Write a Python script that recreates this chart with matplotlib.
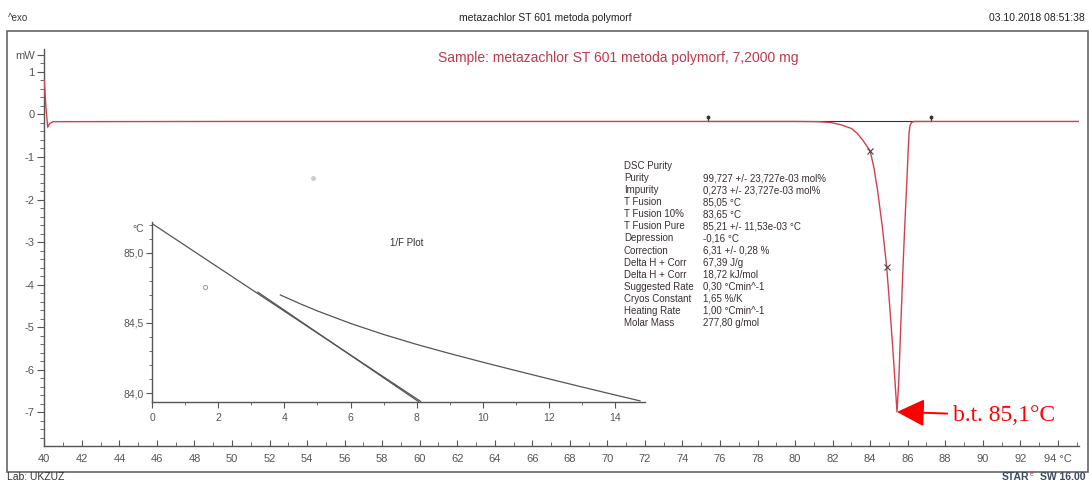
import matplotlib
matplotlib.use("Agg")
import matplotlib.pyplot as plt
from matplotlib.patches import Rectangle
from matplotlib.ticker import MultipleLocator, FixedLocator

plt.rcParams["font.family"] = ["Liberation Sans", "DejaVu Sans"]

# DSC heating run: temperature (°C) and heat flow (mW)
temp = [40.0, 40.08, 40.18, 40.3, 40.47, 50.0, 60.0, 70.0, 80.0, 81.2, 81.9,
        82.5, 83.0, 83.3, 83.6, 84.0, 84.2, 84.4, 84.65, 84.88, 85.05, 85.2,
        85.32, 85.43, 85.52, 85.62, 85.75, 85.85, 85.95, 86.02, 86.07, 86.12,
        86.2, 86.35, 90.0, 95.1]
heat_flow = [0.80, 0.20, -0.30, -0.21, -0.17, -0.165, -0.165, -0.165, -0.165,
             -0.17, -0.19, -0.25, -0.33, -0.44, -0.60, -0.86, -1.25, -1.80,
             -2.65, -3.58, -4.55, -5.45, -6.25, -6.99, -6.30, -5.10, -3.59,
             -2.55, -1.62, -0.90, -0.45, -0.27, -0.19, -0.165, -0.165, -0.165]

# integration baseline limits and the two partial-area markers
limits = [75.35, 87.24]
baseline_level = -0.15
partial_t = [84.0, 84.88]
partial_hf = [-0.86, -3.58]

melting_point = 85.1
peak_t = 85.43
peak_hf = -6.99

# 1/F plot: fusion temperature against reciprocal melted fraction
inv_f = [3.88, 4.5, 5.0, 6.0, 7.0, 8.0, 9.0, 10.0, 11.0, 12.0, 13.0, 14.0, 14.75]
t_sample = [84.700, 84.635, 84.586, 84.497, 84.418, 84.347, 84.282, 84.220,
            84.160, 84.101, 84.043, 83.986, 83.944]
fit_x = [0.0, 8.12]
fit_t = [85.21, 83.94]
data_x = [3.2, 8.05]
data_t = [84.72, 83.94]

table_labels = ["DSC Purity", "Purity", "Impurity", "T Fusion", "T Fusion 10%",
                "T Fusion Pure", "Depression", "Correction", "Delta H + Corr",
                "Delta H + Corr", "Suggested Rate", "Cryos Constant",
                "Heating Rate", "Molar Mass"]
table_values = ["", "99,727 +/- 23,727e-03 mol%", "0,273 +/- 23,727e-03 mol%",
                "85,05 °C", "83,65 °C", "85,21 +/- 11,53e-03 °C", "-0,16 °C",
                "6,31 +/- 0,28 %", "67,39 J/g", "18,72 kJ/mol",
                "0,30 °Cmin^-1", "1,65 %/K", "1,00 °Cmin^-1", "277,80 g/mol"]

red = "#d2404f"
grey = "#555555"

fig = plt.figure(figsize=(10.89, 4.82), dpi=100)
W, H = 1089, 482


def fx(px):
    return px / W


def fy(py):
    return 1 - py / H


# page frame
fig.patches.append(Rectangle((fx(7), fy(471.5)), fx(1087.5 - 7), (471.5 - 31) / H,
                             transform=fig.transFigure, fill=False,
                             edgecolor="#666666", lw=1.2))

fig.text(fx(8), fy(18), "^exo", fontsize=7, color="#333333", va="center")
fig.text(fx(545), fy(18), "metazachlor ST 601 metoda polymorf", fontsize=7.5,
         color="#222222", ha="center", va="center")
fig.text(fx(1085), fy(18), "03.10.2018 08:51:38", fontsize=7.5, color="#222222",
         ha="right", va="center")
fig.text(fx(7), fy(476.5), "Lab: UKZUZ", fontsize=7.5, color="#333333",
         va="center")
fig.text(fx(1085), fy(476.5), "SW 16.00", fontsize=7.5, color="#3b4a5c",
         ha="right", va="center", fontweight="bold")
fig.text(fx(1029), fy(476.5), "STAR", fontsize=7.5, color="#3b4a5c",
         ha="right", va="center", fontweight="bold")
fig.text(fx(1029.5), fy(474), "e", fontsize=5, color="#c0394b",
         ha="left", va="center")

# main DSC axes
ax = fig.add_axes([fx(44.3), fy(446), fx(1078.5 - 44.3), (446 - 49.3) / H])
ax.plot(temp, heat_flow, color=red, lw=1.0, zorder=3)
ax.plot(limits, [baseline_level, baseline_level], color="#333333", lw=0.8, zorder=2)
for t in limits:
    ax.plot([t, t], [baseline_level, baseline_level + 0.09], color="#333333", lw=0.9)
    ax.plot(t, baseline_level + 0.1, marker="o", ms=1.8, color="#333333")
ax.plot(partial_t, partial_hf, ls="none", marker="x", ms=4, mew=0.8,
        color="#444444", zorder=4)
ax.plot(54.3, -1.5, marker="o", ms=2.5, color="#cccccc")

ax.set_xlim(40, 95.1)
ax.set_ylim(-7.79, 1.53)
for s in ["top", "right"]:
    ax.spines[s].set_visible(False)
for s in ["left", "bottom"]:
    ax.spines[s].set_color(grey)
    ax.spines[s].set_linewidth(1.0)

xt = list(range(40, 95, 2))
ax.xaxis.set_major_locator(FixedLocator(xt))
ax.set_xticklabels([str(t) for t in xt[:-1]] + ["94 °C"])
ax.xaxis.set_minor_locator(MultipleLocator(1))
ax.tick_params(axis="x", which="both", direction="in", colors=grey,
               labelsize=8, pad=6)
ax.tick_params(axis="x", which="major", length=4)
ax.tick_params(axis="x", which="minor", length=3)

yt = [1.4, 1, 0, -1, -2, -3, -4, -5, -6, -7]
ax.yaxis.set_major_locator(FixedLocator(yt))
ax.set_yticklabels(["mW", "1", "0", "-1", "-2", "-3", "-4", "-5", "-6", "-7"])
ax.yaxis.set_minor_locator(MultipleLocator(0.2))
ax.tick_params(axis="y", which="both", direction="out", colors=grey,
               labelsize=8, pad=2)
ax.tick_params(axis="y", which="major", length=5)
ax.tick_params(axis="y", which="minor", length=3)

ax.text(70.6, 1.32, "Sample: metazachlor ST 601 metoda polymorf, 7,2000 mg",
        color="#c0394b", fontsize=10, ha="center", va="center")

# purity report
for i, (lab, val) in enumerate(zip(table_labels, table_values)):
    y = fy(166 + i * 12.08)
    fig.text(fx(624), y, lab, fontsize=7, color="#3a3030", va="center")
    fig.text(fx(703), y, val, fontsize=7, color="#3a3030", va="center")

ax.annotate("b.t. %s°C" % str(melting_point).replace(".", ","),
            xy=(peak_t, peak_hf), xytext=(88.4, peak_hf - 0.08),
            fontsize=17, color="red", family=["Liberation Serif", "DejaVu Serif"],
            va="center",
            arrowprops=dict(arrowstyle="-|>,head_length=1.0,head_width=0.5",
                            color="red", lw=1.4, shrinkA=2, shrinkB=0))

# 1/F inset
ins = fig.add_axes([fx(152), fy(402), fx(645 - 152), (402 - 222) / H])
ins.patch.set_alpha(0)
ins.plot(fit_x, fit_t, color=grey, lw=0.9)
ins.plot(data_x, data_t, color=grey, lw=0.9)
ins.plot(inv_f, t_sample, color=grey, lw=0.9)
ins.plot(1.6, 84.76, marker="o", ms=3, mfc="none", mec="#999999", mew=0.7)
ins.set_xlim(0, 14.9)
ins.set_ylim(83.936, 85.221)
for s in ["top", "right"]:
    ins.spines[s].set_visible(False)
for s in ["left", "bottom"]:
    ins.spines[s].set_color(grey)
    ins.spines[s].set_linewidth(1.0)
ins.xaxis.set_major_locator(MultipleLocator(2))
ins.xaxis.set_minor_locator(MultipleLocator(1))
ins.yaxis.set_major_locator(FixedLocator([84.0, 84.5, 85.0]))
ins.set_yticklabels(["84,0", "84,5", "85,0"])
ins.yaxis.set_minor_locator(MultipleLocator(0.1))
ins.tick_params(which="both", colors=grey, labelsize=7.5, direction="out")
ins.tick_params(which="major", length=4)
ins.tick_params(which="minor", length=2.5)
ins.tick_params(axis="x", pad=4)
ins.tick_params(axis="y", pad=2)
ins.text(-0.25, 85.17, "°C", fontsize=7.5, color=grey, ha="right", va="center")
ins.text(7.7, 85.07, "1/F Plot", fontsize=7, color="#333333", ha="center",
         va="center")

fig.savefig("out.png", dpi=100)
